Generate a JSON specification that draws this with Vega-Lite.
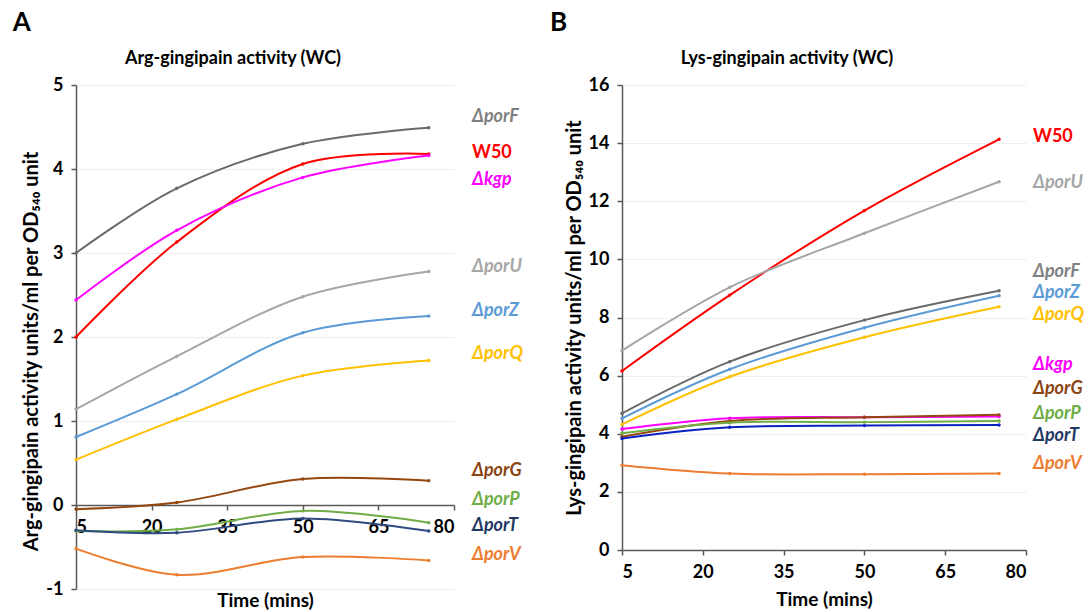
{
  "$schema": "https://vega.github.io/schema/vega-lite/v6.json",
  "background": "white",
  "padding": {"left": 12, "top": 10, "right": 0, "bottom": 0},
  "spacing": 27,
  "config": {
    "font": "Lato",
    "view": {"stroke": null},
    "axis": {
      "domainColor": "#595959", "domainWidth": 1.5,
      "tickColor": "#595959", "tickWidth": 1.5, "tickSize": 5,
      "labelFont": "Lato", "labelFontSize": 18, "labelFontWeight": "bold", "labelColor": "#000000", "labelPadding": 8,
      "titleFont": "Lato", "titleFontSize": 19, "titleFontWeight": "bold", "titleColor": "#000000",
      "gridColor": "#eeeeee", "gridWidth": 1
    },
    "axisX": {"grid": false},
    "axisY": {"grid": true, "titleFontSize": 20},
    "title": {"font": "Lato", "fontWeight": "bold", "color": "#000000"}
  },
  "datasets": {
    "argData": [
      {"s":"porF","t":5,"v":3.0},{"s":"porF","t":25,"v":3.77},{"s":"porF","t":50,"v":4.30},{"s":"porF","t":75,"v":4.49},
      {"s":"W50","t":5,"v":2.0},{"s":"W50","t":25,"v":3.13},{"s":"W50","t":50,"v":4.06},{"s":"W50","t":75,"v":4.18},
      {"s":"kgp","t":5,"v":2.44},{"s":"kgp","t":25,"v":3.27},{"s":"kgp","t":50,"v":3.90},{"s":"kgp","t":75,"v":4.16},
      {"s":"porU","t":5,"v":1.14},{"s":"porU","t":25,"v":1.77},{"s":"porU","t":50,"v":2.48},{"s":"porU","t":75,"v":2.78},
      {"s":"porZ","t":5,"v":0.81},{"s":"porZ","t":25,"v":1.32},{"s":"porZ","t":50,"v":2.05},{"s":"porZ","t":75,"v":2.25},
      {"s":"porQ","t":5,"v":0.54},{"s":"porQ","t":25,"v":1.02},{"s":"porQ","t":50,"v":1.54},{"s":"porQ","t":75,"v":1.72},
      {"s":"porG","t":5,"v":-0.05},{"s":"porG","t":25,"v":0.03},{"s":"porG","t":50,"v":0.31},{"s":"porG","t":75,"v":0.29},
      {"s":"porP","t":5,"v":-0.31},{"s":"porP","t":25,"v":-0.29},{"s":"porP","t":50,"v":-0.07},{"s":"porP","t":75,"v":-0.21},
      {"s":"porT","t":5,"v":-0.30},{"s":"porT","t":25,"v":-0.33},{"s":"porT","t":50,"v":-0.16},{"s":"porT","t":75,"v":-0.31},
      {"s":"porV","t":5,"v":-0.52},{"s":"porV","t":25,"v":-0.83},{"s":"porV","t":50,"v":-0.62},{"s":"porV","t":75,"v":-0.66}
    ],
    "lysData": [
      {"s":"W50","t":5,"v":6.16},{"s":"W50","t":25,"v":8.77},{"s":"W50","t":50,"v":11.68},{"s":"W50","t":75,"v":14.13},
      {"s":"porU","t":5,"v":6.86},{"s":"porU","t":25,"v":9.04},{"s":"porU","t":50,"v":10.90},{"s":"porU","t":75,"v":12.67},
      {"s":"porF","t":5,"v":4.70},{"s":"porF","t":25,"v":6.48},{"s":"porF","t":50,"v":7.91},{"s":"porF","t":75,"v":8.92},
      {"s":"porZ","t":5,"v":4.53},{"s":"porZ","t":25,"v":6.22},{"s":"porZ","t":50,"v":7.65},{"s":"porZ","t":75,"v":8.75},
      {"s":"porQ","t":5,"v":4.32},{"s":"porQ","t":25,"v":5.96},{"s":"porQ","t":50,"v":7.32},{"s":"porQ","t":75,"v":8.37},
      {"s":"kgp","t":5,"v":4.16},{"s":"kgp","t":25,"v":4.53},{"s":"kgp","t":50,"v":4.57},{"s":"kgp","t":75,"v":4.59},
      {"s":"porG","t":5,"v":3.90},{"s":"porG","t":25,"v":4.44},{"s":"porG","t":50,"v":4.57},{"s":"porG","t":75,"v":4.65},
      {"s":"porP","t":5,"v":4.02},{"s":"porP","t":25,"v":4.38},{"s":"porP","t":50,"v":4.40},{"s":"porP","t":75,"v":4.44},
      {"s":"porT","t":5,"v":3.84},{"s":"porT","t":25,"v":4.22},{"s":"porT","t":50,"v":4.28},{"s":"porT","t":75,"v":4.30},
      {"s":"porV","t":5,"v":2.92},{"s":"porV","t":25,"v":2.63},{"s":"porV","t":50,"v":2.61},{"s":"porV","t":75,"v":2.63}
    ],
    "argLabels": [
      {"s":"porF","label":"ΔporF","ly":4.62},{"s":"W50","label":"W50","ly":4.19},{"s":"kgp","label":"Δkgp","ly":3.87},
      {"s":"porU","label":"ΔporU","ly":2.83},{"s":"porZ","label":"ΔporZ","ly":2.31},{"s":"porQ","label":"ΔporQ","ly":1.80},
      {"s":"porG","label":"ΔporG","ly":0.41},{"s":"porP","label":"ΔporP","ly":0.06},{"s":"porT","label":"ΔporT","ly":-0.25},
      {"s":"porV","label":"ΔporV","ly":-0.59}
    ],
    "lysLabels": [
      {"s":"W50","label":"W50","ly":14.21},{"s":"porU","label":"ΔporU","ly":12.63},{"s":"porF","label":"ΔporF","ly":9.55},
      {"s":"porZ","label":"ΔporZ","ly":8.85},{"s":"porQ","label":"ΔporQ","ly":8.09},{"s":"kgp","label":"Δkgp","ly":6.37},
      {"s":"porG","label":"ΔporG","ly":5.53},{"s":"porP","label":"ΔporP","ly":4.67},{"s":"porT","label":"ΔporT","ly":3.92},
      {"s":"porV","label":"ΔporV","ly":2.95}
    ]
  },
  "hconcat": [
    {
      "title": {"text": "A", "anchor": "start", "fontSize": 26, "fontWeight": "bold", "dx": -9, "offset": 14},
      "vconcat": [
        {
          "title": {"text": "Arg-gingipain activity (WC)", "fontSize": 18, "fontWeight": "bold", "frame": "group", "dx": -32, "offset": 8},
          "width": 378,
          "height": 504,
          "layer": [
            {
              "data": {"name": "argData"},
              "mark": {"type": "line", "interpolate": "catmull-rom", "strokeWidth": 2, "point": {"filled": true, "size": 12}},
              "encoding": {
                "x": {"field": "t", "type": "quantitative", "scale": {"domain": [5, 80], "nice": false},
                      "axis": {"values": [5, 20, 35, 50, 65, 80], "offset": -84, "title": "Time (mins)", "titlePadding": 55}},
                "y": {"field": "v", "type": "quantitative", "scale": {"domain": [-1, 5], "nice": false},
                      "axis": {"values": [-1, 0, 1, 2, 3, 4, 5], "labelExpr": "'' + datum.value", "titleY": 266, "title": "Arg-gingipain activity units/ml per OD₅₄₀ unit"}},
                "color": {"field": "s", "type": "nominal", "legend": null,
                          "scale": {"domain": ["W50","porF","kgp","porU","porZ","porQ","porG","porP","porT","porV"],
                                    "range": ["#ff0000","#6a6a6a","#ff00ff","#a6a6a6","#5b9bd5","#ffc000","#94460f","#70ad47","#2f4a80","#ed7d31"]}}
              }
            },
            {
              "data": {"name": "argLabels"},
              "transform": [{"filter": "datum.s != 'W50'"}],
              "mark": {"type": "text", "align": "left", "baseline": "middle", "dx": 18, "fontSize": 18, "fontWeight": "bold", "fontStyle": "italic"},
              "encoding": {
                "x": {"datum": 80},
                "y": {"field": "ly", "type": "quantitative"},
                "text": {"field": "label"},
                "color": {"field": "s", "type": "nominal", "legend": null,
                          "scale": {"domain": ["porF","kgp","porU","porZ","porQ","porG","porP","porT","porV"],
                                    "range": ["#808080","#ff00ff","#a6a6a6","#5b9bd5","#ffc000","#8b4513","#70ad47","#1f3864","#ed7d31"]}}
              }
            },
            {
              "data": {"name": "argLabels"},
              "transform": [{"filter": "datum.s == 'W50'"}],
              "mark": {"type": "text", "align": "left", "baseline": "middle", "dx": 18, "fontSize": 18, "fontWeight": "bold", "color": "#ff0000"},
              "encoding": {
                "x": {"datum": 80},
                "y": {"field": "ly", "type": "quantitative"},
                "text": {"field": "label"}
              }
            }
          ],
          "resolve": {"scale": {"color": "independent"}}
        }
      ]
    },
    {
      "title": {"text": "B", "anchor": "start", "fontSize": 26, "fontWeight": "bold", "dx": -14, "offset": 14},
      "vconcat": [
        {
          "title": {"text": "Lys-gingipain activity (WC)", "fontSize": 18, "fontWeight": "bold", "frame": "group", "dx": -37, "offset": 8},
          "width": 404,
          "height": 465,
          "layer": [
            {
              "data": {"name": "lysData"},
              "mark": {"type": "line", "interpolate": "catmull-rom", "strokeWidth": 2, "point": {"filled": true, "size": 12}},
              "encoding": {
                "x": {"field": "t", "type": "quantitative", "scale": {"domain": [5, 80], "nice": false},
                      "axis": {"values": [5, 20, 35, 50, 65, 80], "title": "Time (mins)", "titlePadding": 9}},
                "y": {"field": "v", "type": "quantitative", "scale": {"domain": [0, 16], "nice": false},
                      "axis": {"values": [0, 2, 4, 6, 8, 10, 12, 14, 16], "title": "Lys-gingipain activity units/ml per OD₅₄₀ unit"}},
                "color": {"field": "s", "type": "nominal", "legend": null,
                          "scale": {"domain": ["W50","porF","kgp","porU","porZ","porQ","porG","porP","porT","porV"],
                                    "range": ["#ff0000","#6a6a6a","#ff00ff","#a6a6a6","#5b9bd5","#ffc000","#94460f","#70ad47","#0a22c2","#ed7d31"]}}
              }
            },
            {
              "data": {"name": "lysLabels"},
              "transform": [{"filter": "datum.s != 'W50'"}],
              "mark": {"type": "text", "align": "left", "baseline": "middle", "dx": 7, "fontSize": 18, "fontWeight": "bold", "fontStyle": "italic"},
              "encoding": {
                "x": {"datum": 80},
                "y": {"field": "ly", "type": "quantitative"},
                "text": {"field": "label"},
                "color": {"field": "s", "type": "nominal", "legend": null,
                          "scale": {"domain": ["porF","kgp","porU","porZ","porQ","porG","porP","porT","porV"],
                                    "range": ["#808080","#ff00ff","#a6a6a6","#5b9bd5","#ffc000","#8b4513","#70ad47","#1f3864","#ed7d31"]}}
              }
            },
            {
              "data": {"name": "lysLabels"},
              "transform": [{"filter": "datum.s == 'W50'"}],
              "mark": {"type": "text", "align": "left", "baseline": "middle", "dx": 7, "fontSize": 18, "fontWeight": "bold", "color": "#ff0000"},
              "encoding": {
                "x": {"datum": 80},
                "y": {"field": "ly", "type": "quantitative"},
                "text": {"field": "label"}
              }
            }
          ],
          "resolve": {"scale": {"color": "independent"}}
        }
      ]
    }
  ]
}
